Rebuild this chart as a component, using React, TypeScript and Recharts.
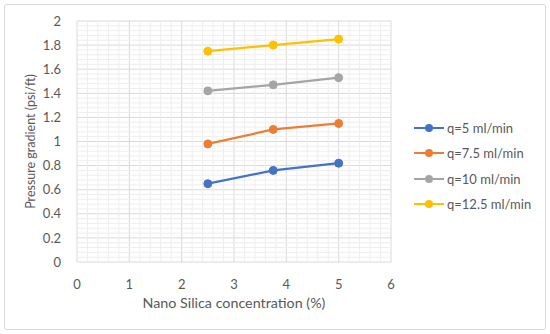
import { CartesianGrid, Label, Line, LineChart, ReferenceLine, XAxis, YAxis } from "recharts";

const concentrations = [2.5, 3.75, 5];
const q5 = [0.65, 0.76, 0.82];
const q75 = [0.98, 1.1, 1.15];
const q10 = [1.42, 1.47, 1.53];
const q125 = [1.75, 1.8, 1.85];

const xTicks = [0, 1, 2, 3, 4, 5, 6];
const yTicks = [0, 0.2, 0.4, 0.6, 0.8, 1, 1.2, 1.4, 1.6, 1.8, 2];
// minor gridlines: 5 steps between major ticks
const xMinor = Array.from({ length: 31 }, (_, i) => i)
  .filter((i) => i % 5 !== 0)
  .map((i) => Math.round(i * 2) / 10);
const yMinor = Array.from({ length: 51 }, (_, i) => i)
  .filter((i) => i % 5 !== 0)
  .map((i) => Math.round(i * 4) / 100);

const SERIES = [
  { key: "q5", name: "q=5 ml/min", color: "#4472C4" },
  { key: "q75", name: "q=7.5 ml/min", color: "#ED7D31" },
  { key: "q10", name: "q=10 ml/min", color: "#A5A5A5" },
  { key: "q125", name: "q=12.5 ml/min", color: "#FFC000" },
];

const data = concentrations.map((c, i) => ({
  x: c,
  q5: q5[i],
  q75: q75[i],
  q10: q10[i],
  q125: q125[i],
}));

const FONT = "Lato, 'Open Sans', sans-serif";
const TEXT = "#595959";

function LegendBox() {
  return (
    <div
      style={{
        position: "absolute",
        left: 414,
        top: 115,
        fontFamily: FONT,
        fontSize: 13,
        color: TEXT,
      }}
    >
      {SERIES.map((s) => (
        <div
          key={s.key}
          style={{ display: "flex", alignItems: "center", height: 25.5 }}
        >
          <svg width={32} height={10}>
            <line x1={0} y1={5} x2={30} y2={5} stroke={s.color} strokeWidth={2} />
            <circle cx={15} cy={5} r={4} fill={s.color} />
          </svg>
          <span style={{ marginLeft: 1 }}>{s.name}</span>
        </div>
      ))}
    </div>
  );
}

export default function App() {
  return (
    <div
      style={{
        position: "absolute",
        left: 0,
        top: 0,
        width: 550,
        height: 334,
        background: "#fff",
      }}
    >
      <div
        style={{
          position: "absolute",
          left: 4,
          top: 4,
          width: 540,
          height: 324,
          border: "1px solid #d9d9d9",
          borderRadius: 3,
        }}
      />
      <LineChart
        width={550}
        height={334}
        data={data}
        margin={{ top: 21, right: 159, bottom: 22, left: 37 }}
        style={{ position: "absolute", left: 0, top: 0 }}
      >
        {xMinor.map((v) => (
          <ReferenceLine key={"vx" + v} x={v} stroke="#eeeeee" strokeWidth={1} />
        ))}
        {yMinor.map((v) => (
          <ReferenceLine key={"hy" + v} y={v} stroke="#eeeeee" strokeWidth={1} />
        ))}
        <CartesianGrid stroke="#d9d9d9" strokeWidth={1} />
        <XAxis
          type="number"
          dataKey="x"
          domain={[0, 6]}
          ticks={xTicks}
          height={50}
          axisLine={false}
          tickLine={false}
          tickMargin={12}
          tick={{ fill: TEXT, fontSize: 13, fontFamily: FONT }}
        >
          <Label
            value="Nano Silica concentration (%)"
            position="insideBottom"
            offset={4}
            style={{ fill: TEXT, fontSize: 14.3, fontFamily: FONT }}
          />
        </XAxis>
        <YAxis
          type="number"
          domain={[0, 2]}
          ticks={yTicks}
          width={40}
          axisLine={false}
          tickLine={false}
          tickMargin={10}
          tick={{ fill: TEXT, fontSize: 13, fontFamily: FONT }}
        >
          <Label
            value="Pressure gradient (psi/ft)"
            angle={-90}
            position="center"
            dx={-26}
            style={{ fill: TEXT, fontSize: 12.5, fontFamily: FONT, textAnchor: "middle" }}
          />
        </YAxis>
        {SERIES.map((s) => (
          <Line
            key={s.key}
            dataKey={s.key}
            name={s.name}
            stroke={s.color}
            strokeWidth={2.2}
            dot={{ r: 4, fill: s.color, stroke: s.color, strokeWidth: 1 }}
            activeDot={false}
            isAnimationActive={false}
          />
        ))}
      </LineChart>
      <LegendBox />
    </div>
  );
}
